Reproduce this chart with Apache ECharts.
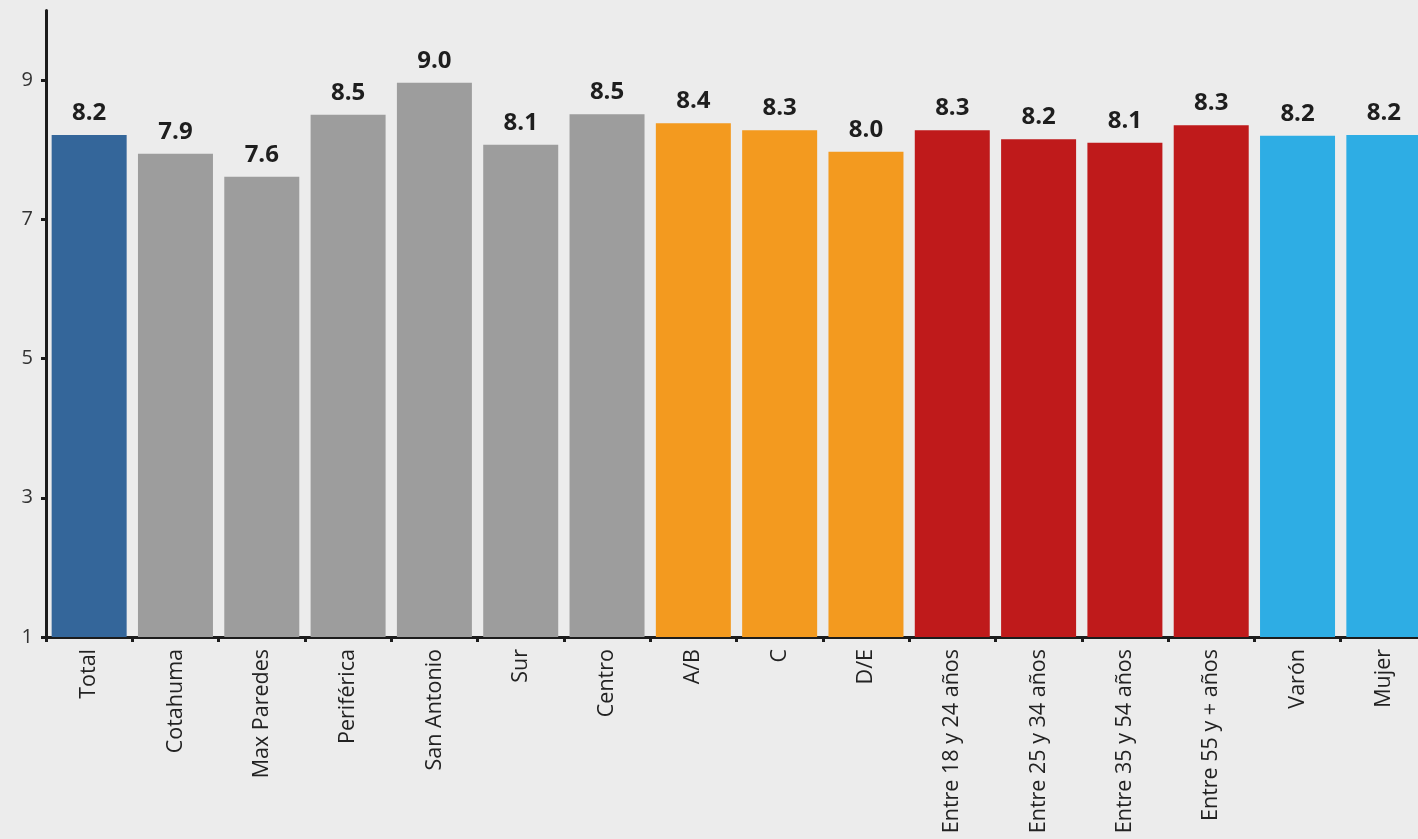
<!DOCTYPE html>
<html>
<head>
<meta charset="utf-8">
<script src="https://cdn.jsdelivr.net/npm/echarts@6/dist/echarts.min.js"></script>
<style>
  html, body { margin: 0; padding: 0; background: #ececec; overflow: hidden; }
  #chart { width: 1432px; height: 839px; }
</style>
</head>
<body>
<div id="chart"></div>
<script>
// Average score by segment
const categories = [
  'Total', 'Cotahuma', 'Max Paredes', 'Periférica', 'San Antonio', 'Sur', 'Centro',
  'A/B', 'C', 'D/E',
  'Entre 18 y 24 años', 'Entre 25 y 34 años', 'Entre 35 y 54 años', 'Entre 55 y + años',
  'Varón', 'Mujer'
];
const values = [8.21, 7.94, 7.61, 8.50, 8.96, 8.07, 8.51, 8.38, 8.28, 7.97, 8.28, 8.15, 8.10, 8.35, 8.20, 8.21];
const groups = ['total', 'zona', 'zona', 'zona', 'zona', 'zona', 'zona', 'nse', 'nse', 'nse', 'edad', 'edad', 'edad', 'edad', 'sexo', 'sexo'];
const yTicks = [1, 3, 5, 7, 9];

const groupColors = {
  total: '#34669a',
  zona: '#9d9d9d',
  nse: '#f39a1f',
  edad: '#bf1a1b',
  sexo: '#2eade4'
};

const FONT = '"Open Sans", "Noto Sans", sans-serif';

const chart = echarts.init(document.getElementById('chart'), null, { renderer: 'canvas' });

// the plot runs slightly past the right edge of the window, cutting the last bar
chart.setOption({
  backgroundColor: '#ececec',
  animation: false,
  grid: { left: 46, top: 10.4, width: 1381, bottom: 202, containLabel: false },
  xAxis: {
    type: 'category',
    data: categories,
    boundaryGap: true,
    axisLine: { show: true, lineStyle: { color: '#1c1c1c', width: 3 } },
    axisTick: { show: true, alignWithLabel: false, length: 5, lineStyle: { color: '#1c1c1c', width: 3 } },
    axisLabel: {
      rotate: 90,
      interval: 0,
      margin: 12,
      color: '#222',
      fontFamily: FONT,
      fontSize: 21.5
    }
  },
  yAxis: {
    type: 'value',
    min: 1,
    max: 10,
    splitLine: { show: false },
    axisLine: { show: true, lineStyle: { color: '#1c1c1c', width: 3 } },
    axisTick: { show: true, length: 5, customValues: yTicks, lineStyle: { color: '#1c1c1c', width: 3 } },
    axisLabel: {
      customValues: yTicks,
      margin: 13,
      color: '#333',
      fontFamily: FONT,
      fontSize: 20
    }
  },
  series: [{
    type: 'bar',
    barWidth: 75,
    data: values.map((v, i) => ({
      value: v,
      itemStyle: { color: groupColors[groups[i]] }
    })),
    label: {
      show: true,
      position: 'top',
      distance: 10,
      color: '#1e1e1e',
      fontFamily: FONT,
      fontWeight: 'bold',
      fontSize: 24,
      formatter: p => p.value.toFixed(1)
    }
  }]
});
</script>
</body>
</html>
